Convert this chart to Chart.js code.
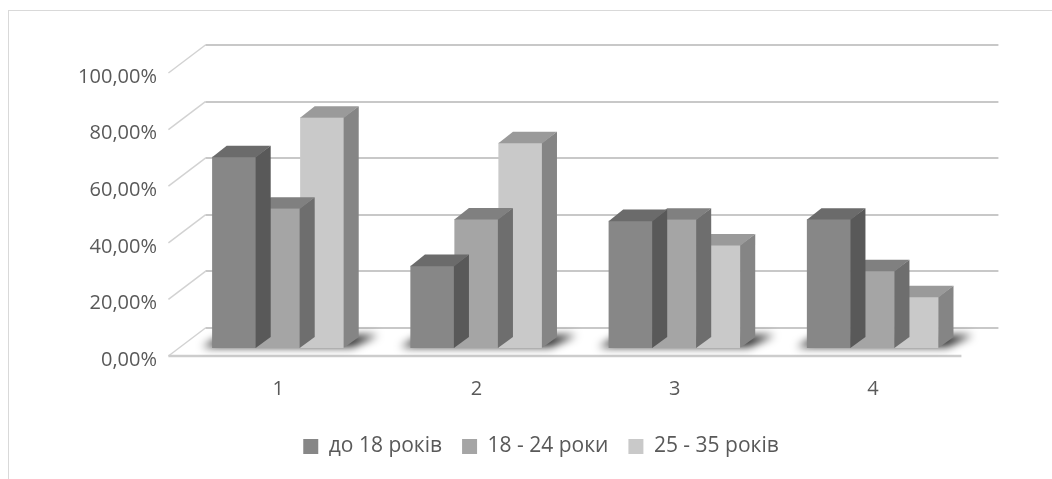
<!DOCTYPE html>
<html>
<head>
<meta charset="utf-8">
<script src="https://cdn.jsdelivr.net/npm/chart.js@4.4.1/dist/chart.umd.min.js"></script>
<style>
  html, body { margin: 0; padding: 0; background: #fff; overflow: hidden; }
  #wrap { position: relative; width: 1052px; height: 479px; }
</style>
</head>
<body>
<div id="wrap"><canvas id="chart" width="1052" height="479"></canvas></div>
<script>
// ---- data ----
const categories = ['1', '2', '3', '4'];
const seriesNames = ['до 18 років', '18 - 24 роки', '25 - 35 років'];
const under18 = [0.676, 0.291, 0.450, 0.455];
const age18to24 = [0.494, 0.456, 0.455, 0.273];
const age25to35 = [0.815, 0.725, 0.364, 0.181];
const yTickValues = [0, 0.2, 0.4, 0.6, 0.8, 1];
const yTickLabels = ['0,00%', '20,00%', '40,00%', '60,00%', '80,00%', '100,00%'];

// ---- styling ----
const FONT = '"Open Sans", "Noto Sans", sans-serif';
const TEXT = '#595959';
const faceFront = ['#878787', '#a5a5a5', '#c9c9c9'];
const faceTop = ['#6b6b6b', '#808080', '#9a9a9a'];
const faceSide = ['#595959', '#6e6e6e', '#858585'];

// oblique projection: vector from the back wall to the front edge of the floor
const DEPTH = { x: -37, y: 28 };
const FRONT_PLANE = 0.714;   // depth fraction where the bar front faces sit
const BAR_DEPTH = 0.394;     // depth of each bar as a fraction of the floor

function poly(ctx, pts) {
  ctx.beginPath();
  ctx.moveTo(pts[0][0], pts[0][1]);
  for (let i = 1; i < pts.length; i++) ctx.lineTo(pts[i][0], pts[i][1]);
  ctx.closePath();
  ctx.fill();
}

const box3d = {
  id: 'box3d',
  beforeDraw(chart) {
    const ctx = chart.ctx;
    ctx.save();
    ctx.strokeStyle = '#d9d9d9';
    ctx.lineWidth = 1;
    ctx.strokeRect(8.5, 10.5, 1200, 600);
    ctx.restore();
  },
  beforeDatasetsDraw(chart) {
    const { ctx, chartArea: a, scales: { y } } = chart;
    const bx = -DEPTH.x * FRONT_PLANE, by = -DEPTH.y * FRONT_PLANE;
    const fx = DEPTH.x * (1 - FRONT_PLANE), fy = DEPTH.y * (1 - FRONT_PLANE);
    ctx.save();
    ctx.lineCap = 'butt';
    // side wall grid lines
    ctx.strokeStyle = '#d2d2d2';
    ctx.lineWidth = 1.5;
    yTickValues.forEach(v => {
      const py = y.getPixelForValue(v);
      ctx.beginPath();
      ctx.moveTo(a.left + bx, py + by);
      ctx.lineTo(a.left + fx, py + fy);
      ctx.stroke();
    });
    // back wall grid lines
    ctx.strokeStyle = '#c8c8c8';
    ctx.lineWidth = 2;
    yTickValues.forEach(v => {
      const py = Math.round(y.getPixelForValue(v) + by);
      ctx.beginPath();
      ctx.moveTo(a.left + bx, py);
      ctx.lineTo(a.right + bx, py);
      ctx.stroke();
    });
    // floor front edge
    const p0 = y.getPixelForValue(0);
    ctx.strokeStyle = '#cdcdcd';
    ctx.lineWidth = 2.5;
    ctx.beginPath();
    ctx.moveTo(a.left + fx, p0 + fy);
    ctx.lineTo(a.right + fx, p0 + fy);
    ctx.stroke();
    // soft shadows cast by each group of bars onto the floor
    const first = chart.getDatasetMeta(0).data;
    const last = chart.getDatasetMeta(2).data;
    ctx.filter = 'blur(4px)';
    ctx.fillStyle = 'rgba(0,0,0,0.85)';
    categories.forEach((c, i) => {
      const l = first[i].x - first[i].width / 2;
      const r = last[i].x + last[i].width / 2;
      poly(ctx, [[l - 10, p0 - 1], [r + 8, p0 - 1], [r + 34, p0 - 13], [l + 8, p0 - 11]]);
    });
    ctx.filter = 'none';
    ctx.restore();
  },
  afterDatasetDraw(chart, args) {
    const ctx = chart.ctx;
    const idx = args.index;
    const dx = -DEPTH.x * BAR_DEPTH, dy = -DEPTH.y * BAR_DEPTH;
    ctx.save();
    args.meta.data.forEach(bar => {
      const { x, y: top, base, width } = bar.getProps(['x', 'y', 'base', 'width'], true);
      const l = x - width / 2, r = x + width / 2;
      ctx.fillStyle = faceSide[idx];
      poly(ctx, [[r - 0.5, top], [r + dx, top + dy], [r + dx, base + dy], [r - 0.5, base]]);
      ctx.fillStyle = faceTop[idx];
      poly(ctx, [[l, top + 0.5], [r, top + 0.5], [r + dx, top + dy], [l + dx, top + dy]]);
    });
    ctx.restore();
  }
};

const seriesValues = [under18, age18to24, age25to35];

new Chart(document.getElementById('chart'), {
  type: 'bar',
  data: {
    labels: categories,
    datasets: seriesNames.map((name, i) => ({
      label: name,
      data: seriesValues[i],
      backgroundColor: faceFront[i],
      borderWidth: 0,
      categoryPercentage: 0.666,
      barPercentage: 1.0
    }))
  },
  options: {
    responsive: false,
    animation: false,
    layout: { padding: { left: 30, right: 0, top: 65, bottom: 12 } },
    plugins: {
      tooltip: { enabled: false },
      legend: {
        position: 'bottom',
        labels: {
          boxWidth: 15,
          boxHeight: 15,
          padding: 20,
          color: TEXT,
          font: { family: FONT, size: 21 }
        }
      }
    },
    scales: {
      x: {
        grid: { display: false, drawTicks: false },
        border: { display: false },
        ticks: { color: TEXT, font: { family: FONT, size: 20 }, padding: 29 },
        afterFit(s) { s.height = 68; }
      },
      y: {
        min: 0,
        max: 1,
        grid: { display: false, drawTicks: false },
        border: { display: false },
        afterBuildTicks(s) { s.ticks = yTickValues.map(v => ({ value: v })); },
        ticks: {
          color: TEXT,
          font: { family: FONT, size: 20 },
          padding: 22,
          labelOffset: 12,
          callback: (v, i) => yTickLabels[i]
        },
        afterFit(s) { s.width = 149; }
      },
      y2: {
        position: 'right',
        display: true,
        grid: { display: false, drawTicks: false },
        border: { display: false },
        ticks: { display: false },
        afterFit(s) { s.width = 80; }
      }
    }
  },
  plugins: [box3d]
});
</script>
</body>
</html>
